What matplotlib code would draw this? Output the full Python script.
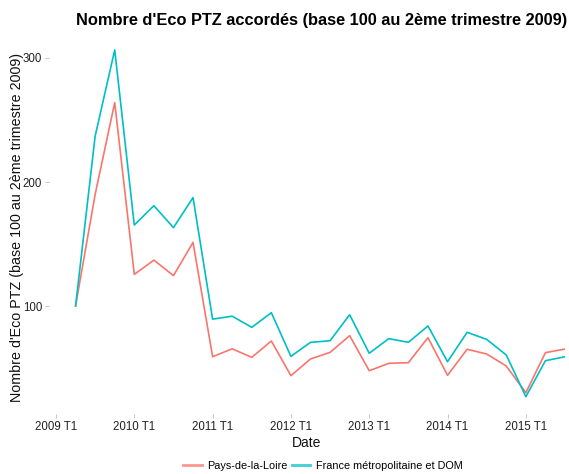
import matplotlib
matplotlib.use("Agg")
import matplotlib.pyplot as plt
import numpy as np

plt.rcParams['font.family'] = ['Liberation Sans', 'DejaVu Sans']

quarters = ["2009 T2", "2009 T3", "2009 T4",
            "2010 T1", "2010 T2", "2010 T3", "2010 T4",
            "2011 T1", "2011 T2", "2011 T3", "2011 T4",
            "2012 T1", "2012 T2", "2012 T3", "2012 T4",
            "2013 T1", "2013 T2", "2013 T3", "2013 T4",
            "2014 T1", "2014 T2", "2014 T3", "2014 T4",
            "2015 T1", "2015 T2", "2015 T3"]
pays_de_la_loire = [100, 190, 264, 125.5, 137, 124.5, 151.3,
                    59.1, 65.5, 58.6, 71.8, 43.8, 57.3, 62.6, 76.1,
                    47.8, 53.8, 54.3, 74.5, 44.1, 65.1, 61.3, 51.6,
                    30.1, 62.4, 65.3]
france = [100, 237, 306.5, 165.3, 180.9, 163.2, 187.4,
          89.4, 91.8, 82.8, 94.6, 59.4, 70.7, 72.0, 93.0,
          61.9, 73.7, 70.7, 83.9, 55.1, 78.8, 73.1, 60.5,
          26.9, 55.9, 59.1]
series_names = ["Pays-de-la-Loire", "France métropolitaine et DOM"]
colors = ["#F8766D", "#00BFC4"]
xtick_labels = ["2009 T1", "2010 T1", "2011 T1", "2012 T1", "2013 T1", "2014 T1", "2015 T1"]
ytick_values = [100, 200, 300]

def qpos(q):
    y, t = q.split(" T")
    return int(y) + (int(t) - 1) / 4.0

x = np.array([qpos(q) for q in quarters])

W, H = 569, 474
fig = plt.figure(figsize=(W / 100, H / 100), dpi=100)
left, right, top, bottom = 49, 565, 32.6, 414
ax = fig.add_axes([left / W, 1 - bottom / H, (right - left) / W, (bottom - top) / H])

for vals, name, c in zip([pays_de_la_loire, france], series_names, colors):
    ax.plot(x, vals, color=c, lw=1.2, label=name)

ax.set_xlim(2009.0 - 7 / 78.4, 2015.5)
ymin = min(min(pays_de_la_loire), min(france))
ymax = max(max(pays_de_la_loire), max(france))
pad = (ymax - ymin) * 0.05
ax.set_ylim(ymin - pad, ymax + pad)

ax.set_xticks([qpos(l) for l in xtick_labels])
ax.set_xticklabels(xtick_labels)
ax.set_yticks(ytick_values)
for s in ax.spines.values():
    s.set_visible(False)
ax.tick_params(axis='both', colors='#bbbbbb', labelcolor='#222222', labelsize=8.3, length=3, width=0.6, pad=2)

ax.set_xlabel("Date", fontsize=10, color='#111111', labelpad=2)
ax.set_ylabel("Nombre d'Eco PTZ (base 100 au 2ème trimestre 2009)", fontsize=10.3, color='#111111')
ax.yaxis.set_label_coords((24 - left) / (right - left), (bottom - 227) / (bottom - top))

fig.text(321.5 / W, 1 - 20 / H, "Nombre d'Eco PTZ accordés (base 100 au 2ème trimestre 2009)",
         ha='center', va='center', fontsize=11.8, fontweight='bold')

leg = fig.legend(loc='center', bbox_to_anchor=(323 / W, 1 - 466 / H), ncol=2, frameon=False,
                 fontsize=7.8, handlelength=1.7, columnspacing=0.4, handletextpad=0.5)
for line in leg.get_lines():
    line.set_linewidth(2)
    line.set_alpha(0.75)

fig.savefig("out.png", dpi=100)
